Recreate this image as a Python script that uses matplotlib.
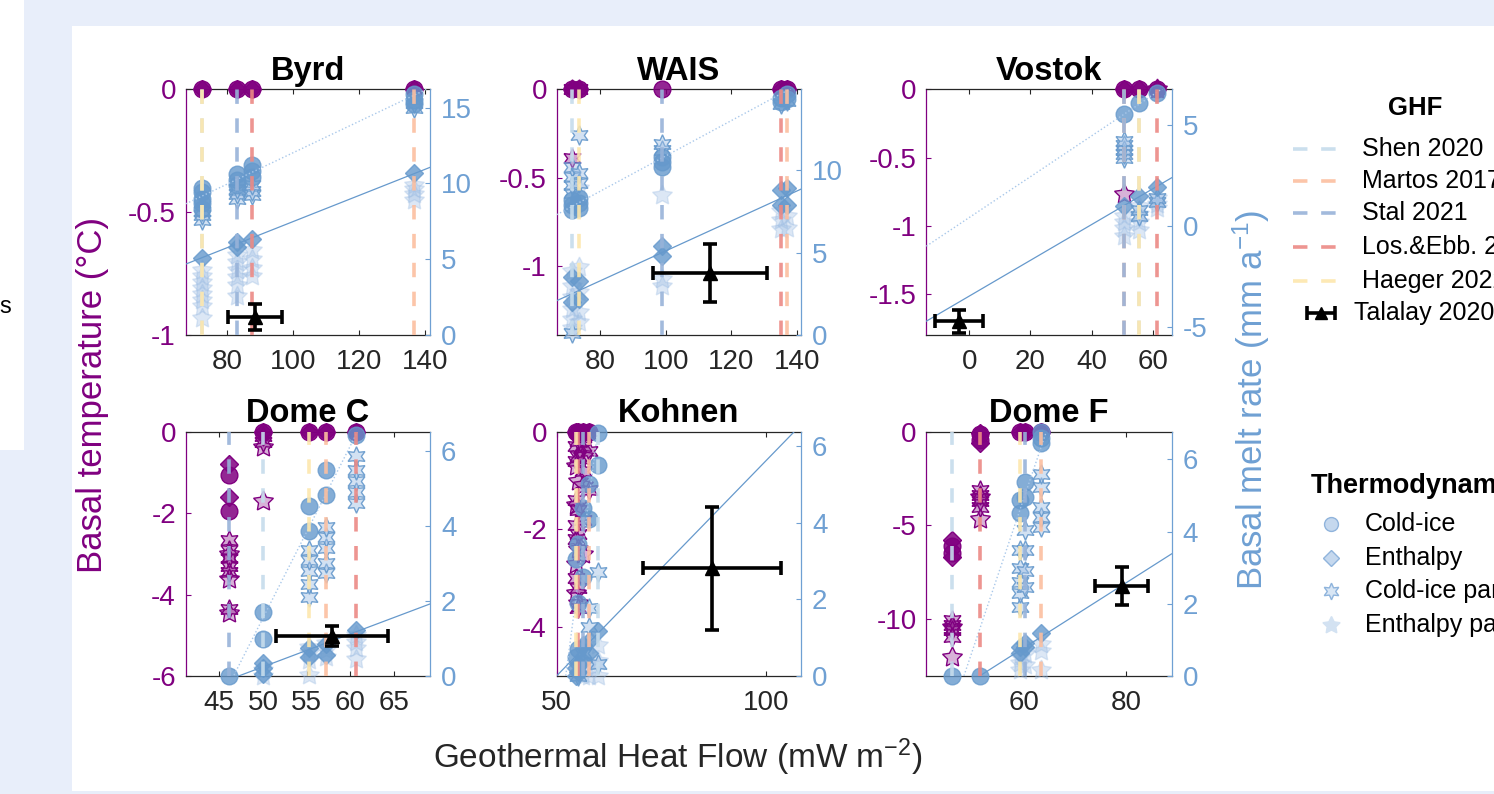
import numpy as np
import matplotlib
matplotlib.use("Agg")
import matplotlib.pyplot as plt
from matplotlib.patches import Rectangle
from matplotlib.colors import to_rgba

plt.rcParams['font.family'] = ['Liberation Sans', 'DejaVu Sans']
plt.rcParams['mathtext.fontset'] = 'custom'
plt.rcParams['mathtext.rm'] = 'Liberation Sans'
plt.rcParams['mathtext.default'] = 'regular'

W, H = 1494, 794

# ---------------- data ----------------
sites = ["Byrd", "WAIS", "Vostok", "Dome C", "Kohnen", "Dome F"]
ghf_models = ["Shen 2020", "Martos 2017", "Stal 2021", "Los.&Ebb. 2021", "Haeger 2022"]
ghf_colors = ["#c6dcec", "#fcbfa0", "#98b3d9", "#ec8a85", "#fde7ad"]
thermo_models = ["Cold-ice", "Enthalpy", "Cold-ice param.", "Enthalpy param."]

# GHF value of each model at each site (order = ghf_models)
byrd_ghf = [72.4, 136.7, 82.9, 87.4, 72.4]
wais_ghf = [71.5, 137.0, 99.0, 135.1, 73.6]
vostok_ghf = [55.5, 50.6, 50.6, 61.2, 55.5]
domec_ghf = [50.0, 57.2, 46.1, 60.6, 55.3]
kohnen_ghf = [59.8, 57.8, 56.2, 55.0, 54.5]
domef_ghf = [45.7, 63.3, 60.0, 51.2, 59.1]

# Basal temperature (deg C) {GHF: values}
byrd_T_cold = {72.4: [0.0], 82.9: [0.0], 87.4: [0.0], 136.7: [0.0]}
byrd_T_enth = {72.4: [0.0], 82.9: [0.0], 87.4: [0.0], 136.7: [0.0]}
byrd_T_coldp = {}
byrd_T_enthp = {}
wais_T_cold = {71.5: [0.0], 73.6: [0.0], 99.0: [0.0], 135.1: [0.0], 137.0: [0.0]}
wais_T_enth = {71.5: [0.0], 73.6: [0.0], 135.1: [0.0], 137.0: [0.0]}
wais_T_coldp = {71.5: [0.0, -0.39], 73.6: [0.0]}
wais_T_enthp = {}
vostok_T_cold = {50.6: [0.0], 55.5: [0.0], 61.2: [0.0]}
vostok_T_enth = {50.6: [0.0], 55.5: [0.0], 61.2: [0.0]}
vostok_T_coldp = {}
vostok_T_enthp = {50.6: [-0.77], 61.2: [0.0]}
domec_T_cold = {46.1: [-1.06, -1.95], 50.0: [0.0], 55.3: [0.0], 57.2: [0.0], 60.6: [0.0]}
domec_T_enth = {46.1: [-0.79, -1.61], 50.0: [0.0], 55.3: [0.0], 57.2: [0.0], 60.6: [0.0]}
domec_T_coldp = {46.1: [-2.66, -2.9, -3.1, -3.3, -3.45, -4.36], 50.0: [-0.1, -0.25]}
domec_T_enthp = {46.1: [-3.0, -3.62, -4.46], 50.0: [-0.38, -1.7]}
kohnen_T_cold = {54.5: [0.0], 55.0: [0.0], 56.2: [0.0], 57.8: [0.0]}
kohnen_T_enth = {54.5: [0.0], 55.0: [0.0], 56.2: [0.0], 57.8: [0.0]}
kohnen_T_coldp = {54.5: [-0.3, -0.6, -1.4, -1.9, -2.2, -3.0], 55.0: [-0.2, -0.5, -1.6, -2.1, -3.2, -3.6],
                  56.2: [-0.3, -0.8, -1.8], 57.8: [-0.4, -1.2]}
kohnen_T_enthp = {54.5: [-0.7, -1.5, -2.7, -3.3], 55.0: [-1.0, -2.4, -3.5], 56.2: [-0.5, -1.1, -2.5]}
domef_T_cold = {45.7: [-6.1, -6.5], 51.2: [-0.1, -0.45], 59.1: [0.0], 60.0: [0.0], 63.3: [0.0]}
domef_T_enth = {45.7: [-5.8, -6.67], 51.2: [-0.07, -0.6], 59.1: [0.0], 60.0: [0.0], 63.3: [0.0]}
domef_T_coldp = {45.7: [-10.05, -10.3, -10.6, -10.94], 51.2: [-3.1, -3.4, -3.7, -4.0]}
domef_T_enthp = {45.7: [-10.4, -12.0], 51.2: [-3.5, -4.68]}

# Basal melt rate (mm/a) {GHF: values}
byrd_M_cold = {72.4: [8.3, 8.7, 9.0, 9.4, 9.7], 82.9: [9.9, 10.2, 10.6], 87.4: [10.4, 10.8, 11.2], 136.7: [15.2, 15.5, 15.9]}
byrd_M_enth = {72.4: [5.1], 82.9: [5.8, 6.1], 87.4: [6.3], 136.7: [10.7]}
byrd_M_coldp = {72.4: [7.6, 7.9, 8.2], 82.9: [9.0, 9.3, 9.6], 87.4: [9.2, 9.5, 9.9], 136.7: [15.0, 15.3]}
byrd_M_enthp = {72.4: [1.1, 1.9, 2.3, 2.7, 3.1, 3.5, 3.9, 4.3], 82.9: [2.6, 3.3, 3.8, 4.3, 4.8, 5.3],
                87.4: [3.9, 4.4, 5.0, 5.6], 136.7: [8.9, 9.3, 9.6, 9.9]}
wais_M_cold = {71.5: [7.6, 7.9, 8.2], 73.6: [7.7, 8.0, 8.3], 99.0: [10.2, 10.5, 10.8], 135.1: [14.1, 14.4], 137.0: [14.3, 14.6]}
wais_M_enth = {71.5: [2.0, 3.5], 73.6: [2.2, 3.3], 99.0: [4.8, 5.4], 135.1: [7.9, 8.8], 137.0: [7.9, 8.9]}
wais_M_coldp = {71.5: [0.1, 8.6, 9.1, 9.6, 10.2], 73.6: [12.1, 9.2, 9.8], 99.0: [11.2, 11.6], 135.1: [14.0], 137.0: [14.2]}
wais_M_enthp = {71.5: [0.4, 1.0, 1.6, 2.3, 3.0, 3.9], 73.6: [0.8, 1.4, 2.6, 4.1, 8.9], 99.0: [3.0, 3.4, 8.5],
                135.1: [6.4, 7.0, 7.5], 137.0: [6.5, 7.2]}
vostok_M_cold = {50.6: [5.56], 55.5: [6.1], 61.2: [6.6]}
vostok_M_enth = {50.6: [1.0], 55.5: [1.5], 61.2: [1.95]}
vostok_M_coldp = {50.6: [3.4, 3.6, 3.8, 4.0, 4.2], 55.5: [0.5, 0.8], 61.2: [1.2, 1.4]}
vostok_M_enthp = {50.6: [-0.5, -0.1, 0.2, 0.5], 55.5: [-0.2, 0.2, 0.6, 1.0], 61.2: [0.9, 1.1, 1.4]}
domec_M_cold = {46.1: [0.0], 50.0: [0.99, 1.70], 55.3: [3.87, 4.53], 57.2: [4.83, 5.50], 60.6: [6.43]}
domec_M_enth = {50.0: [0.05, 0.2, 0.35], 55.3: [0.5, 0.75], 57.2: [0.55, 0.85], 60.6: [1.23]}
domec_M_coldp = {55.3: [2.11, 2.45, 2.8, 3.1, 3.36], 57.2: [2.74, 3.0, 3.4, 3.7, 3.98], 60.6: [4.6, 4.9, 5.2, 5.5, 5.85]}
domec_M_enthp = {50.0: [0.0, 0.15], 55.3: [0.03, 0.43, 0.6, 0.77], 57.2: [0.5, 0.7, 0.88], 60.6: [0.45, 0.75, 0.9, 1.1]}
kohnen_M_cold = {59.8: [5.5, 6.34], 57.8: [5.0, 4.1], 56.2: [4.38, 2.58], 55.0: [3.44, 1.9, 0.7], 54.5: [3.05, 0.5]}
kohnen_M_enth = {59.8: [1.17], 57.8: [0.6, 0.9], 56.2: [0.4, 0.8], 55.0: [0.1, 0.3], 54.5: [0.0, 0.2]}
kohnen_M_coldp = {59.8: [2.72, 0.3], 57.8: [1.77, 1.29], 56.2: [0.6], 55.0: [0.0]}
kohnen_M_enthp = {59.8: [0.0, 0.4, 0.8], 57.8: [0.0, 0.3], 56.2: [0.0, 0.2]}
domef_M_cold = {45.7: [0.0], 51.2: [0.0], 59.1: [4.51, 4.88], 60.0: [4.97, 5.38], 63.3: [6.45, 6.6, 6.77]}
domef_M_enth = {59.1: [0.63, 0.81], 60.0: [0.8, 0.91], 63.3: [1.18]}
domef_M_coldp = {59.1: [1.91, 2.3, 2.6, 3.0, 3.49], 60.0: [2.47, 2.9, 3.5, 4.04], 63.3: [4.14, 4.4, 4.69, 5.24, 5.6]}
domef_M_enthp = {59.1: [0.17, 0.35, 0.53], 60.0: [0.3, 0.6], 63.3: [0.17, 0.7, 0.9]}

# linear fits of melt rate vs GHF: (slope, intercept)
fit_cold = [(0.1034, 1.68), (0.107, 0.16), (0.1015, 0.42), (0.459, -21.4), (0.834, -43.5), (0.418, -20.1)]
fit_enth = [(0.0861, -1.13), (0.0907, -3.97), (0.0889, -3.48), (0.0877, -4.14), (0.1121, -5.6), (0.0897, -4.59)]

# Talalay 2020 estimates: GHF, melt, GHF err, melt err
talalay_ghf = [88.4, 113.6, -3.4, 57.9, 87.2, 79.1]
talalay_melt = [1.19, 3.76, -4.72, 1.07, 2.81, 2.49]
talalay_ghf_err = [8.2, 17.4, 7.8, 6.4, 16.5, 5.2]
talalay_melt_err = [0.86, 1.75, 0.57, 0.27, 1.6, 0.52]

# axis ranges and ticks
xlims = [(67.4, 141.5), (66.7, 141.3), (-14, 66.1), (41.15, 69.1), (50, 108.4), (40.7, 88.9)]
tlims = [(-1, 0), (-1.39, 0), (-1.8, 0), (-6, 0), (-5, 0), (-13.04, 0)]
mlims = [(0, 16.2), (0, 14.9), (-5.41, 6.79), (0, 6.51), (0, 6.37), (0, 6.77)]
xticks = [[80, 100, 120, 140], [80, 100, 120, 140], [0, 20, 40, 60], [45, 50, 55, 60, 65], [50, 100], [60, 80]]
tticks = [[-1, -0.5, 0], [-1, -0.5, 0], [-1.5, -1, -0.5, 0], [-6, -4, -2, 0], [-4, -2, 0], [-10, -5, 0]]
mticks = [[0, 5, 10, 15], [0, 5, 10], [-5, 0, 5], [0, 2, 4, 6], [0, 2, 4, 6], [0, 2, 4, 6]]

ghf_all = [byrd_ghf, wais_ghf, vostok_ghf, domec_ghf, kohnen_ghf, domef_ghf]
T_all = [[byrd_T_cold, byrd_T_enth, byrd_T_coldp, byrd_T_enthp],
         [wais_T_cold, wais_T_enth, wais_T_coldp, wais_T_enthp],
         [vostok_T_cold, vostok_T_enth, vostok_T_coldp, vostok_T_enthp],
         [domec_T_cold, domec_T_enth, domec_T_coldp, domec_T_enthp],
         [kohnen_T_cold, kohnen_T_enth, kohnen_T_coldp, kohnen_T_enthp],
         [domef_T_cold, domef_T_enth, domef_T_coldp, domef_T_enthp]]
M_all = [[byrd_M_cold, byrd_M_enth, byrd_M_coldp, byrd_M_enthp],
         [wais_M_cold, wais_M_enth, wais_M_coldp, wais_M_enthp],
         [vostok_M_cold, vostok_M_enth, vostok_M_coldp, vostok_M_enthp],
         [domec_M_cold, domec_M_enth, domec_M_coldp, domec_M_enthp],
         [kohnen_M_cold, kohnen_M_enth, kohnen_M_coldp, kohnen_M_enthp],
         [domef_M_cold, domef_M_enth, domef_M_coldp, domef_M_enthp]]

# ---------------- style ----------------
PURPLE = '#800080'
BLUE = '#6699cc'
BLUE_TXT = '#6fa0d3'
DARK = '#262626'
BG = '#e8eefa'
markers = ['o', 'D', (6, 1, 0), (5, 1, 0)]
msizes = [12, 9.5, 14, 15]
blue_face = [to_rgba(BLUE, 0.8), to_rgba(BLUE, 0.8), to_rgba('#9dbde3', 0.45), to_rgba('#9dbde3', 0.35)]
blue_edge = [to_rgba(BLUE, 0.8), to_rgba(BLUE, 0.8), to_rgba(BLUE, 0.9), to_rgba('#9dbde3', 0.35)]
purple_face = [to_rgba(PURPLE, 0.85), to_rgba(PURPLE, 0.85), to_rgba(PURPLE, 0.35), to_rgba(PURPLE, 0.3)]
purple_edge = [PURPLE, PURPLE, PURPLE, PURPLE]

# axes boxes in pixels: left/right, top/bottom
cols = [(185.7, 430.0), (556.7, 801.0), (926.3, 1171.6)]
rows = [(89.3, 335.0), (431.7, 676.0)]

fig = plt.figure(figsize=(W / 100, H / 100), dpi=100, facecolor=BG)
fig.add_artist(Rectangle((72 / W, 1 - 791 / H), 1 - 72 / W, (791 - 26) / H, transform=fig.transFigure,
                         facecolor='white', edgecolor='none', zorder=-5))
fig.add_artist(Rectangle((0, 1 - 450 / H), 24 / W, 450 / H, transform=fig.transFigure,
                         facecolor='white', edgecolor='none', zorder=-5))
fig.text(5 / W, 1 - 307 / H, 's', fontsize=17, color='black', ha='center', va='center')


def fmt(v):
    return f"{v:g}"


for i, site in enumerate(sites):
    l, r = cols[i % 3]
    t, b = rows[i // 3]
    ax = fig.add_axes([l / W, 1 - b / H, (r - l) / W, (b - t) / H])
    ax2 = ax.twinx()
    ax.set_xlim(*xlims[i])
    ax.set_ylim(*tlims[i])
    ax2.set_ylim(*mlims[i])

    # purple: basal temperature
    for k in range(4):
        xs, ys = [], []
        for g, vals in T_all[i][k].items():
            xs += [g] * len(vals)
            ys += vals
        if xs:
            ax.plot(xs, ys, ls='none', marker=markers[k], ms=msizes[k], mfc=purple_face[k],
                    mec=purple_edge[k], mew=1, clip_on=False, zorder=3)
    # blue: melt rate
    for k in [3, 2, 1, 0]:
        xs, ys = [], []
        for g, vals in M_all[i][k].items():
            xs += [g] * len(vals)
            ys += vals
        if xs:
            ax2.plot(xs, ys, ls='none', marker=markers[k], ms=msizes[k], mfc=blue_face[k],
                     mec=blue_edge[k], mew=1, clip_on=False, zorder=2)
    # fits
    xx = np.array(xlims[i])
    a, c = fit_cold[i]
    ax2.plot(xx, a * xx + c, ls=':', lw=1.0, color='#a9c8ea', zorder=2.5)
    a, c = fit_enth[i]
    ax2.plot(xx, a * xx + c, ls='-', lw=0.9, color=BLUE, zorder=2.5)
    # GHF lines
    for g, col in zip(ghf_all[i], ghf_colors):
        ax2.axvline(g, color=col, lw=2.6, ls=(0, (4, 4)), alpha=0.9, zorder=3)
    # Talalay
    ax2.errorbar(talalay_ghf[i], talalay_melt[i], xerr=talalay_ghf_err[i], yerr=talalay_melt_err[i],
                 fmt='^', color='black', ms=10, lw=2.6, capsize=5, capthick=2.6, zorder=6)

    ax.set_xticks(xticks[i])
    ax.set_xticklabels([fmt(v) for v in xticks[i]])
    ax.set_yticks(tticks[i])
    ax.set_yticklabels([fmt(v) for v in tticks[i]])
    ax2.set_yticks(mticks[i])
    ax2.set_yticklabels([fmt(v) for v in mticks[i]])

    ax.tick_params(axis='x', direction='in', top=True, length=3.5, width=0.8, colors=DARK,
                   labelsize=20, pad=10)
    ax.tick_params(axis='y', direction='in', length=3.5, width=0.8, colors=PURPLE, labelsize=20, pad=7)
    ax2.tick_params(axis='y', direction='in', length=3.5, width=0.8, colors=BLUE_TXT, labelsize=20, pad=8)
    ax.spines['left'].set_color(PURPLE)
    ax.spines['right'].set_visible(False)
    ax.spines['top'].set_color(DARK)
    ax.spines['bottom'].set_color(DARK)
    for s in ['left', 'top', 'bottom']:
        ax2.spines[s].set_visible(False)
    ax2.spines['right'].set_color(BLUE_TXT)
    for sp in list(ax.spines.values()) + list(ax2.spines.values()):
        sp.set_linewidth(0.9)
    ax.set_title(site, fontsize=23.5, fontweight='bold', color='black', pad=7)

# axis labels
fig.text(93 / W, 1 - 395 / H, 'Basal temperature (°C)', rotation=90, ha='center', va='center',
         fontsize=25, color=PURPLE)
fig.text(1251 / W, 1 - 400 / H, 'Basal melt rate (mm a$^{-1}$)', rotation=90, ha='center', va='center',
         fontsize=25, color=BLUE_TXT)
fig.text(678 / W, 1 - 757 / H, 'Geothermal Heat Flow (mW m$^{-2}$)', ha='center', va='center',
         fontsize=24, color=DARK)

# ---------------- legends (overlay in pixel coords) ----------------
lg = fig.add_axes([0, 0, 1, 1], zorder=10)
lg.set_xlim(0, W)
lg.set_ylim(H, 0)
lg.axis('off')
lg.patch.set_visible(False)

lg.text(1415, 108, 'GHF', fontsize=18.5, fontweight='bold', ha='center', va='center')
row_y = [149.3, 180.7, 213.3, 246.7, 280.7]
for name, col, yy in zip(ghf_models, ghf_colors, row_y):
    lg.plot([1292.7, 1348.3], [yy, yy], color=col, lw=2.6, ls=(0, (4, 3.8)), alpha=0.9)
    lg.text(1361.7, yy, name, fontsize=18, ha='left', va='center')
lg.errorbar(1321, 313.3, xerr=14, fmt='^', color='black', ms=9, lw=2.6, capsize=5, capthick=2.6)
lg.text(1354, 313.3, 'Talalay 2020', fontsize=18, ha='left', va='center')

lg.text(1311, 486, 'Thermodynamics', fontsize=19.5, fontweight='bold', ha='left', va='center')
leg_face = [to_rgba('#c5d8ee', 1.0), to_rgba('#c5d8ee', 1.0), to_rgba('#d8e6f5', 1.0), to_rgba('#d3e2f2', 1.0)]
leg_edge = ['#90b4dc', '#90b4dc', '#8fb4dc', '#d3e2f2']
leg_ms = [10, 8.5, 12, 13]
for k, yy in enumerate([524, 558.3, 590.7, 625]):
    lg.plot([1331.3], [yy], ls='none', marker=markers[k], ms=leg_ms[k], mfc=leg_face[k], mec=leg_edge[k], mew=1)
    lg.text(1364.7, yy, thermo_models[k], fontsize=18, ha='left', va='center')

fig.savefig('out.png', dpi=100, facecolor=BG)
